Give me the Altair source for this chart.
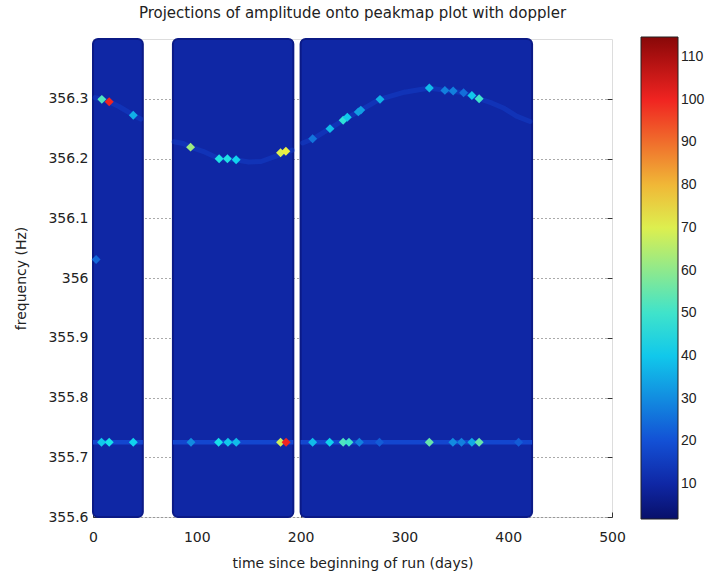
import altair as alt
import pandas as pd

# ---------------- data ----------------
# observation blocks (days) and their background level
block_start = [0, 77, 200]
block_end = [48, 193, 423]
block_level = [10, 10, 10]

# persistent horizontal line near 355.725 Hz (band limits, level)
line_low = 355.7212
line_high = 355.7290
line_level = 19

# faint doppler track (segment id, day, frequency)
track_seg = [1, 1, 1, 1, 1, 1,
             2, 2, 2, 2, 2, 2, 2, 2, 2, 2, 2,
             3, 3, 3, 3, 3, 3, 3, 3, 3, 3, 3, 3, 3, 3, 3]
track_day = [2, 8.5, 15.6, 25, 39, 46,
             78, 87, 94, 106, 121, 137, 150, 162, 175, 186, 192,
             202, 212, 228, 241, 256, 276, 300, 324, 339, 357, 372, 384, 396, 408, 421]
track_freq = [356.302, 356.299, 356.295, 356.287, 356.2725, 356.266,
              356.228, 356.225, 356.219, 356.212, 356.200, 356.198, 356.194, 356.195, 356.203, 356.210, 356.214,
              356.226, 356.233, 356.250, 356.264, 356.279, 356.299, 356.311, 356.318, 356.314, 356.310,
              356.300, 356.293, 356.284, 356.271, 356.262]
track_level = 18

# bright peaks (day, frequency, amplitude)
peak_day = [8.5, 15.6, 38.8, 3,
            94, 121.5, 129.5, 137.9, 180.7, 185.8,
            211.6, 228.3, 241, 245, 255.6, 258, 276.5, 324, 339, 347, 357, 365, 372,
            8.2, 15.6, 38.8, 94.4, 121, 130, 138, 180.7, 186,
            211.6, 228, 241, 246.6, 256.6, 276, 324, 346.7, 355, 365, 372, 410]
peak_freq = [356.299, 356.295, 356.2725, 356.031,
             356.219, 356.1995, 356.1995, 356.198, 356.2095, 356.212,
             356.233, 356.250, 356.264, 356.269, 356.278, 356.281, 356.299, 356.318, 356.314,
             356.313, 356.310, 356.3055, 356.300,
             355.725, 355.725, 355.725, 355.725, 355.725, 355.725, 355.725, 355.725, 355.725,
             355.725, 355.725, 355.725, 355.725, 355.725, 355.725, 355.725, 355.725, 355.725,
             355.725, 355.725, 355.725]
peak_level = [52, 100, 36, 24,
              62, 46, 46, 42, 70, 72,
              26, 38, 48, 40, 33, 33, 36, 38, 28, 28, 25, 40, 50,
              40, 45, 42, 30, 45, 40, 38, 68, 100,
              38, 42, 52, 50, 28, 22, 55, 30, 28, 35, 55, 22]

x_ticks = [0, 100, 200, 300, 400, 500]
y_ticks = [355.6, 355.7, 355.8, 355.9, 356.0, 356.1, 356.2, 356.3]
colorbar_ticks = [10, 20, 30, 40, 50, 60, 70, 80, 90, 100, 110]
jet_stops = [1.8, 15.9, 44.1, 72.4, 100.6, 114.7]
jet_colors = ["#08106a", "#1438d0", "#10e0f0", "#f0f040", "#f02020", "#880808"]

# ---------------- tables ----------------
blocks = pd.DataFrame({"start": block_start, "end": block_end, "level": block_level})
band = pd.DataFrame({"start": block_start, "end": block_end,
                     "low": [line_low] * 3, "high": [line_high] * 3,
                     "level": [line_level] * 3})
track = pd.DataFrame({"seg": track_seg, "day": track_day, "freq": track_freq,
                      "level": [track_level] * len(track_day)})
peaks = pd.DataFrame({"day": peak_day, "freq": peak_freq, "level": peak_level})

FONT = "DejaVu Sans"
TXT = "#222222"

xscale = alt.Scale(domain=[0, 500], nice=False, zero=False)
yscale = alt.Scale(domain=[355.6, 356.4], nice=False, zero=False)
cscale = alt.Scale(type="linear", domain=jet_stops, range=jet_colors, interpolate="rgb")

legend = alt.Legend(type="gradient", orient="none", legendX=548, legendY=-2,
                    direction="vertical",
                    gradientLength=482, gradientThickness=37, values=colorbar_ticks,
                    title=None, labelFontSize=14, labelOffset=3,
                    labelFont="Liberation Sans",
                    labelColor=TXT, gradientStrokeColor="#222222", gradientStrokeWidth=1,
                    gradientOpacity=1, labelOverlap=False)

x_axis = alt.Axis(values=x_ticks, title="time since beginning of run (days)", grid=False,
                  domain=False, offset=-5, tickSize=5, tickColor="#333333",
                  labelPadding=13, labelFontSize=14, titleFontSize=14, titlePadding=12,
                  labelFont=FONT, titleFont=FONT, labelColor=TXT, titleColor=TXT,
                  titleFontWeight="normal", labelFlush=False)
y_axis = alt.Axis(values=y_ticks, title="frequency (Hz)", grid=True, gridDash=[1, 3],
                  gridColor="#555555", gridWidth=1,
                  domain=False, offset=-5, tickSize=5, tickColor="#333333",
                  labelPadding=5, labelFontSize=14, titleFontSize=14, titlePadding=19,
                  labelFont=FONT, titleFont=FONT, labelColor=TXT, titleColor=TXT,
                  titleFontWeight="normal", format="~g", labelFlush=False)
y_axis_right = alt.Axis(values=y_ticks, orient="right", labels=False, title=None, grid=False,
                        domain=False, offset=-5, tickSize=5, tickColor="#333333")

base_rects = alt.Chart(blocks).mark_rect(cornerRadius=5, stroke="#0b1a86",
                                         strokeWidth=2).encode(
    x=alt.X("start:Q", scale=xscale, axis=x_axis),
    x2="end:Q",
    y=alt.Y("y0:Q", scale=yscale, axis=y_axis),
    y2="y1:Q",
    fill=alt.Fill("level:Q", scale=cscale, legend=legend),
).transform_calculate(y0="355.6", y1="356.4")

band_rects = alt.Chart(band).mark_rect(fillOpacity=0.9).encode(
    x=alt.X("start:Q", scale=xscale, axis=x_axis),
    x2="end:Q",
    y=alt.Y("low:Q", scale=yscale, axis=None),
    y2="high:Q",
    fill=alt.Fill("level:Q", scale=cscale, legend=None),
)

track_line = alt.Chart(track).mark_trail(size=5, fillOpacity=0.4).encode(
    x=alt.X("day:Q", scale=xscale, axis=x_axis),
    y=alt.Y("freq:Q", scale=yscale, axis=None),
    detail="seg:N",
    fill=alt.Fill("level:Q", scale=cscale, legend=None),
)

peak_pts = alt.Chart(peaks).mark_point(shape="diamond", filled=True, size=80,
                                       opacity=1, fillOpacity=1, strokeWidth=0).encode(
    x=alt.X("day:Q", scale=xscale, axis=x_axis),
    y=alt.Y("freq:Q", scale=yscale, axis=y_axis_right),
    fill=alt.Fill("level:Q", scale=cscale, legend=None),
)

chart = alt.layer(base_rects, band_rects, track_line, peak_pts).resolve_axis(
    y="independent"
).properties(
    width=519, height=478,
    autosize=alt.AutoSizeParams(type="none"),
    padding={"left": 93, "top": 39, "right": 94, "bottom": 57},
    title=alt.Title("Projections of amplitude onto peakmap plot with doppler",
                    font=FONT, fontSize=15, fontWeight="normal", color=TXT,
                    anchor="middle", offset=16),
).configure_view(stroke="#333333", strokeWidth=1).configure(background="white")

chart.save("out.html", embed_options={"renderer": "svg", "actions": False})
